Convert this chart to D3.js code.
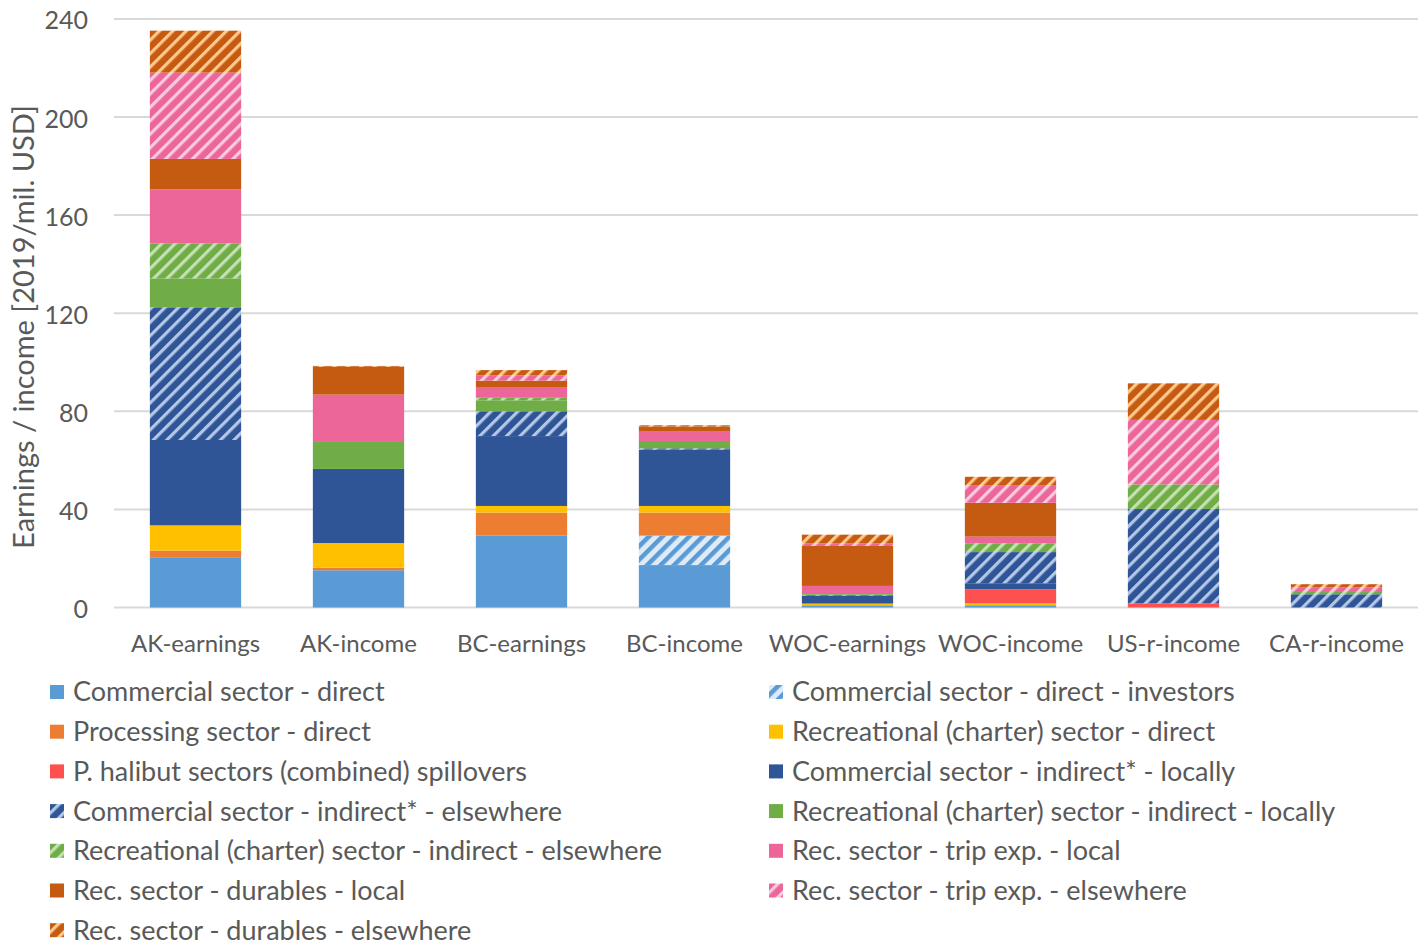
<!DOCTYPE html>
<html>
<head>
<meta charset="utf-8">
<script src="https://cdn.jsdelivr.net/npm/d3@7"></script>
<style>
  body { margin: 0; background: #fff; }
  text { font-family: Lato, "Open Sans", sans-serif; fill: #595959; }
</style>
</head>
<body>
<div id="chart"></div>
<script>
const categories = ["AK-earnings", "AK-income", "BC-earnings", "BC-income",
  "WOC-earnings", "WOC-income", "US-r-income", "CA-r-income"];

const commDirect            = [20.5, 15.2, 29.3, 17.3, 0.8, 0.8, 0, 0];
const commDirectInvestors   = [0, 0, 0, 12.0, 0, 0, 0, 0];
const processing            = [2.7, 1.0, 9.4, 9.4, 0.2, 0.2, 0, 0];
const recDirect             = [10.3, 10.1, 2.7, 2.7, 0.6, 0.7, 0, 0];
const spillovers            = [0, 0, 0, 0, 0, 5.7, 1.7, 0];
const commIndirectLocal     = [34.8, 30.2, 28.5, 23.0, 3.3, 2.5, 0, 0];
const commIndirectElsewhere = [54.1, 0, 10.1, 0.5, 0.3, 12.7, 38.5, 5.4];
const recIndirectLocal      = [11.8, 11.0, 4.5, 3.0, 0.3, 0, 0, 0];
const recIndirectElsewhere  = [14.3, 0, 1.0, 0, 0, 3.6, 10.0, 1.3];
const tripLocal             = [22.0, 19.3, 4.4, 3.8, 3.3, 2.7, 0, 0];
const durablesLocal         = [12.4, 11.4, 2.6, 2.1, 16.3, 13.8, 0, 0];
const tripElsewhere         = [35.2, 0, 2.2, 0, 1.1, 7.0, 26.3, 1.5];
const durablesElsewhere     = [17.1, 0.3, 2.1, 0.5, 3.5, 3.6, 14.9, 1.3];

const seriesNames = [
  "Commercial sector - direct",
  "Commercial sector - direct - investors",
  "Processing sector - direct",
  "Recreational (charter) sector - direct",
  "P. halibut sectors (combined) spillovers",
  "Commercial sector - indirect* - locally",
  "Commercial sector - indirect* - elsewhere",
  "Recreational (charter) sector - indirect - locally",
  "Recreational (charter) sector - indirect - elsewhere",
  "Rec. sector - trip exp. - local",
  "Rec. sector - durables - local",
  "Rec. sector - trip exp. - elsewhere",
  "Rec. sector - durables - elsewhere"
];
const seriesValues = [commDirect, commDirectInvestors, processing, recDirect, spillovers,
  commIndirectLocal, commIndirectElsewhere, recIndirectLocal, recIndirectElsewhere,
  tripLocal, durablesLocal, tripElsewhere, durablesElsewhere];

const yTicks = [0, 40, 80, 120, 160, 200, 240];

// fill styles: [base, stripe] ; stripe null = solid
const fills = [
  ["#5b9bd5", null],
  ["#deebf7", "#5b9bd5"],
  ["#ed7d31", null],
  ["#ffc000", null],
  ["#ff5050", null],
  ["#2f5597", null],
  ["#2f5597", "#b4c7e7"],
  ["#70ad47", null],
  ["#70ad47", "#c5e0b4"],
  ["#ec6699", null],
  ["#c55a11", null],
  ["#ec6699", "#f8cbe0"],
  ["#c55a11", "#ffc88f"]
];

const width = 1427, height = 946;

const svg = d3.select("#chart").append("svg")
  .attr("width", width)
  .attr("height", height);

const defs = svg.append("defs");
fills.forEach((f, i) => {
  if (!f[1]) return;
  const p = defs.append("pattern")
    .attr("id", "hatch" + i)
    .attr("patternUnits", "userSpaceOnUse")
    .attr("width", 9.5)
    .attr("height", 9.5)
    .attr("patternTransform", "rotate(45)");
  p.append("rect").attr("width", 9.5).attr("height", 9.5).attr("fill", f[0]);
  p.append("rect").attr("x", 0).attr("width", i === 1 ? 4.5 : 3.2).attr("height", 9.5).attr("fill", f[1]);
});
const fillOf = i => fills[i][1] ? "url(#hatch" + i + ")" : fills[i][0];

const rows = categories.map((c, j) => {
  const r = { cat: c };
  seriesValues.forEach((s, i) => { r[i] = s[j]; });
  return r;
});
const stack = d3.stack().keys(seriesValues.map((s, i) => i))(rows);

const x = d3.scaleBand()
  .domain(categories)
  .range([114, 1418])
  .paddingInner(0.44)
  .paddingOuter(0.22);

const y = d3.scaleLinear()
  .domain([0, 240])
  .range([607.5, 18.9]);

// gridlines
svg.append("g")
  .selectAll("line")
  .data(yTicks)
  .enter()
  .append("line")
  .attr("x1", 114)
  .attr("x2", 1418)
  .attr("y1", d => y(d))
  .attr("y2", d => y(d))
  .attr("stroke", "#d9d9d9")
  .attr("stroke-width", 2);

// bars
svg.append("g")
  .selectAll("g")
  .data(stack)
  .enter()
  .append("g")
  .attr("fill", d => fillOf(d.key))
  .selectAll("rect")
  .data(d => d.filter(p => p[1] - p[0] > 0))
  .enter()
  .append("rect")
  .attr("x", d => x(d.data.cat))
  .attr("width", x.bandwidth())
  .attr("y", d => y(d[1]))
  .attr("height", d => y(d[0]) - y(d[1]));

// y axis labels
const yAxis = d3.axisLeft(y).tickValues(yTicks).tickSize(0).tickPadding(0);
const gy = svg.append("g")
  .attr("transform", "translate(88,2)")
  .call(yAxis);
gy.select(".domain").remove();
gy.selectAll("text")
  .style("font-size", "25px")
  .style("font-family", "Lato, sans-serif")
  .attr("fill", "#595959");

// x axis labels
const xAxis = d3.axisBottom(x).tickSize(0).tickPadding(0);
const gx = svg.append("g")
  .attr("transform", "translate(0,635)")
  .call(xAxis);
gx.select(".domain").remove();
gx.selectAll("text")
  .style("font-size", "24px")
  .style("font-family", "Lato, sans-serif")
  .attr("fill", "#595959");

// y title
svg.append("text")
  .attr("transform", "translate(34,327) rotate(-90)")
  .attr("text-anchor", "middle")
  .style("font-size", "29px")
  .text("Earnings / income [2019/mil. USD]");

// legend
const legend = svg.append("g")
  .selectAll("g")
  .data(seriesNames)
  .enter()
  .append("g")
  .attr("transform", (d, i) =>
    "translate(" + (i % 2 === 0 ? 50 : 769) + "," + (692 + Math.floor(i / 2) * 39.7) + ")");

legend.append("rect")
  .attr("x", 0)
  .attr("y", -7)
  .attr("width", 14)
  .attr("height", 14)
  .attr("fill", (d, i) => fillOf(i));

legend.append("text")
  .attr("x", 23)
  .attr("y", 0)
  .attr("dy", "0.35em")
  .style("font-size", "27px")
  .text(d => d);
</script>
</body>
</html>
